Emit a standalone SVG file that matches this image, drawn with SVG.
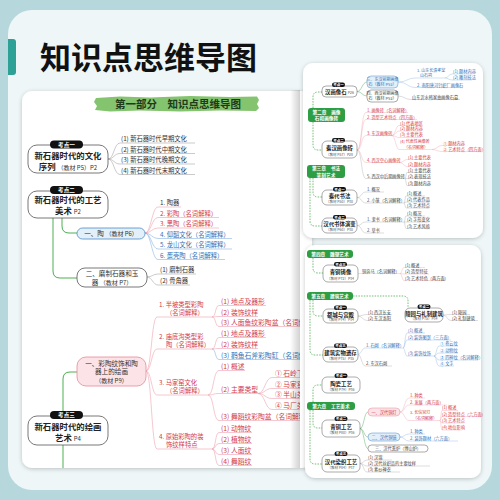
<svg xmlns="http://www.w3.org/2000/svg" width="500" height="500" viewBox="0 0 500 500">
<defs>
<style>
text{font-family:"Noto Sans CJK SC","Noto Sans",sans-serif}
.title{font-size:31px;font-weight:700;fill:#111}
.ban{font-size:10.5px;font-weight:700;fill:#1d3a1a}
.nb{font-size:8.4px;font-weight:700;fill:#222}
.ns{font-size:6px;fill:#333;font-weight:400}
.pt{font-size:5.6px;font-weight:700;fill:#fff}
.it{font-size:6.3px;fill:#333}
.i2{font-size:6.8px;fill:#333}
.red{fill:#d33a48}
.blu{fill:#2f6fb5}
.bx{font-size:6.6px;fill:#333}
.box{fill:#fff;stroke:#555;stroke-width:.8}
.pill{fill:#111}
.cg{fill:none;stroke:#a8a8a8;stroke-width:.6}
.cp{fill:none;stroke:#efa3b0;stroke-width:.6}
.cb{fill:none;stroke:#8ab4e0;stroke-width:.6}
.cgr{fill:none;stroke:#4caf50;stroke-width:1}
.cd{fill:none;stroke:#4caf50;stroke-width:.8;stroke-dasharray:1.5 1.2}
.rs{font-size:4.2px;fill:#444}
.rs2{font-size:4px}
.rsm{font-size:3.5px;fill:#555;font-weight:400}
.rbox{font-size:5.4px;font-weight:700;fill:#222}
.rpt{font-size:3.5px;font-weight:700;fill:#fff}
.ch{fill:#2e9e44}
.cht{font-size:4.7px;font-weight:700;fill:#fff}
.rbx{fill:#fff;stroke:#555;stroke-width:.5}
.rc{fill:none;stroke-width:.4}
</style>
<filter id="sh" x="-10%" y="-10%" width="120%" height="120%"><feDropShadow dx="0" dy="1" stdDeviation="2" flood-color="#000" flood-opacity="0.22"/></filter>
<clipPath id="mclip"><rect x="22" y="90" width="278" height="378"/></clipPath>
<linearGradient id="edge" x1="0" x2="1"><stop offset="0" stop-color="#000" stop-opacity="0"/><stop offset="1" stop-color="#000" stop-opacity="0.18"/></linearGradient>
</defs>

<!-- background -->
<rect width="500" height="500" fill="#b6d8dc"/>
<rect x="8" y="10" width="484" height="480" rx="24" fill="#eef6f7"/>
<path d="M8,39 H13 Q16,39 16,42 V72 Q16,75 13,75 H8 Z" fill="#2ea197"/>
<text class="title" x="40" y="69">知识点思维导图</text>

<!-- main page -->
<rect x="22" y="91" width="290" height="377" rx="10" fill="#fff" filter="url(#sh)"/>
<g clip-path="url(#mclip)">
<path d="M96,98 L120,96.5 L150,97.5 L190,96 L230,97 L257,96.5 L259,100 L257,104 L259,108 L256,111 L220,110.5 L180,111.5 L140,110.5 L110,111.5 L95,110 L97,106 L94,102 Z" fill="#84c46f"/>
<text class="ban" x="178" y="107.5" text-anchor="middle">第一部分　知识点思维导图</text>

<g id="connectors">
<path class="cg" d="M108,159 C114,159 114,143 120,143 H195"/>
<path class="cg" d="M108,159 C114,159 114,153.5 120,153.5 H195"/>
<path class="cg" d="M108,159 C114,159 114,164 120,164 H195"/>
<path class="cg" d="M108,159 C114,159 114,174.5 120,174.5 H195"/>
<path class="cgr" d="M62,218 V226 Q62,233 69,233 H77"/>
<path class="cgr" d="M53,218 V271 Q53,278 60,278 H77"/>
<path class="cgr" d="M63,470 V379 Q63,372 70,372 H77"/>
<path class="cp" d="M145,233 C151,233 152,207 158,207 H181"/>
<path class="cp" d="M145,233 C151,233 152,217.5 158,217.5 H219"/>
<path class="cp" d="M145,233 C151,233 152,228 158,228 H219"/>
<path class="cb" d="M145,233 C151,233 152,238.5 158,238.5 H232"/>
<path class="cb" d="M145,233 C151,233 152,249 158,249 H232"/>
<path class="cb" d="M145,233 C151,233 152,259.5 158,259.5 H225"/>
<path class="cg" d="M147,277 C152,277 153,274 158,274 H196"/>
<path class="cg" d="M147,277 C152,277 153,285 158,285 H190"/>
<path class="cp" d="M146,371 C151.5,371 151.5,317 157,317 H212"/>
<path class="cp" d="M146,371 C151.5,371 151.5,349 157,349 H212"/>
<path class="cp" d="M146,371 C151.5,371 151.5,395 157,395 H208"/>
<path class="cp" d="M146,371 C151.5,371 151.5,449 157,449 H212"/>
<path class="cp" d="M212,317 C216,317 215,305.5 219,305.5 H266"/>
<path class="cp" d="M212,317 C216,317 215,316.5 219,316.5 H258"/>
<path class="cp" d="M212,317 C216,317 215,326.5 219,326.5 H320"/>
<path class="cp" d="M212,349 C216,349 215,337.5 219,337.5 H266"/>
<path class="cp" d="M212,349 C216,349 215,348.5 219,348.5 H258"/>
<path class="cb" d="M212,349 C216,349 215,359.5 219,359.5 H320"/>
<path class="cp" d="M208,395 C214,395 213,370.5 219,370.5 H245"/>
<path class="cp" d="M208,395 C214,395 213,393.5 219,393.5 H258"/>
<path class="cp" d="M208,395 C214,395 213,420.5 219,420.5 H320"/>
<path class="cp" d="M258,393.5 C265,393.5 265,377.5 272,377.5 H320"/>
<path class="cp" d="M258,393.5 C265,393.5 265,388.5 272,388.5 H320"/>
<path class="cp" d="M258,393.5 C265,393.5 265,398.5 272,398.5 H320"/>
<path class="cp" d="M258,393.5 C265,393.5 265,409.5 272,409.5 H320"/>
<path class="cp" d="M212,449 C216,449 215,432.5 219,432.5 H252"/>
<path class="cp" d="M212,449 C216,449 215,443.5 219,443.5 H252"/>
<path class="cp" d="M212,449 C216,449 215,454.5 219,454.5 H252"/>
<path class="cp" d="M212,449 C216,449 215,465.5 219,465.5 H252"/>
</g>

<g id="kd1">
<rect class="box" x="28" y="145" width="80" height="28" rx="9"/>
<rect class="pill" x="50" y="140.5" width="33" height="8" rx="4"/>
<text class="pt" x="66.5" y="146.7" text-anchor="middle">考点一</text>
<text class="nb" text-anchor="middle"><tspan x="68" y="159">新石器时代的文化</tspan><tspan x="68" y="170.3">序列 <tspan class="ns">（教材 P5）P2</tspan></tspan></text>
</g>
<g id="kd1-items" class="it">
<text x="121" y="141.3">(1) 新石器时代早期文化</text>
<text x="121" y="151.8">(2) 新石器时代中期文化</text>
<text x="121" y="162.3">(3) 新石器时代晚期文化</text>
<text x="121" y="172.8">(4) 新石器时代末期文化</text>
</g>

<g id="kd2">
<rect class="box" x="28" y="191" width="80" height="27" rx="9"/>
<rect class="pill" x="50" y="186" width="33" height="8" rx="4"/>
<text class="pt" x="66.5" y="192.2" text-anchor="middle">考点二</text>
<text class="nb" text-anchor="middle"><tspan x="68" y="203">新石器时代的工艺</tspan><tspan x="68" y="214.3">美术 <tspan class="ns">P2</tspan></tspan></text>
</g>
<g id="tao">
<rect x="77" y="228" width="68" height="11" rx="5.5" fill="#e3f0fa" stroke="#4a8ac8" stroke-width=".8"/>
<text class="bx" x="111" y="236" text-anchor="middle" font-size="7">一、陶 <tspan font-size="6">（教材 P6）</tspan></text>
</g>
<g id="tao-items" class="it">
<text x="160" y="205.2">1. 陶器</text>
<text class="red" x="160" y="215.7">2. 彩陶（名词解释）</text>
<text class="red" x="160" y="226.2">3. 黑陶（名词解释）</text>
<text class="blu" x="160" y="236.7">4. 仰韶文化（名词解释）</text>
<text class="blu" x="160" y="247.2">5. 龙山文化（名词解释）</text>
<text class="blu" x="160" y="257.7">6. 蛋壳陶（名词解释）</text>
</g>
<g id="mozhi">
<rect class="box" x="77" y="268" width="70" height="19" rx="8"/>
<text class="bx" text-anchor="middle"><tspan x="112" y="275.8">二、磨制石器和玉</tspan><tspan x="112" y="284.7">器 <tspan font-size="6">（教材 P7）</tspan></tspan></text>
</g>
<g id="mozhi-items" class="it">
<text x="160" y="272.2">(1) 磨制石器</text>
<text x="160" y="283.2">(2) 骨角器</text>
</g>

<g id="kd3">
<rect class="box" x="28" y="416" width="80" height="29" rx="9"/>
<rect class="pill" x="50" y="411" width="33" height="8" rx="4"/>
<text class="pt" x="66.5" y="417.2" text-anchor="middle">考点三</text>
<text class="nb" text-anchor="middle"><tspan x="68" y="429.5">新石器时代的绘画</tspan><tspan x="68" y="440.8">艺术 <tspan class="ns">P4</tspan></tspan></text>
</g>
<g id="caitao">
<rect x="77" y="357" width="69" height="29" rx="9" fill="#fbe3e7" stroke="#e58a99" stroke-width=".8"/>
<text class="bx" text-anchor="middle"><tspan x="111.5" y="365.5">一、彩陶纹饰和陶</tspan><tspan x="111.5" y="374.4">器上的绘画</tspan><tspan x="111.5" y="383.1" font-size="6">（教材 P9）</tspan></text>
</g>
<g id="caitao-l1" class="red" font-size="6.3">
<text><tspan x="159" y="306.6">1. 半坡类型彩陶</tspan><tspan x="166" y="315.3">（名词解释）</tspan></text>
<text><tspan x="159" y="338.6">2. 庙底沟类型彩</tspan><tspan x="166" y="347.3">陶（名词解释）</tspan></text>
<text><tspan x="159" y="384.6">3. 马家窑文化</tspan><tspan x="166" y="393.3">（名词解释）</tspan></text>
<text><tspan x="159" y="438.6">4. 原始彩陶的装</tspan><tspan x="166" y="447.3">饰纹样特点</tspan></text>
</g>
<g id="caitao-l2" class="i2 red">
<text x="221" y="304.4">(1) 地点及器形</text>
<text x="221" y="315.4">(2) 装饰纹样</text>
<text x="221" y="325.4">(3) 人面鱼纹彩陶盆（名词解释）</text>
<text x="221" y="336.4">(1) 地点及器形</text>
<text x="221" y="347.4">(2) 装饰纹样</text>
<text class="blu" x="221" y="358.4">(3) 鹳鱼石斧彩陶缸（名词解释）</text>
<text x="221" y="369.4">(1) 概述</text>
<text x="221" y="392.4">(2) 主要类型</text>
<text x="221" y="419.4">(3) 舞蹈纹彩陶盆（名词解释）</text>
<text x="275" y="376.4">① 石岭下类型</text>
<text x="275" y="387.4">② 马家窑类型</text>
<text x="275" y="397.4">③ 半山类型</text>
<text x="275" y="408.4">④ 马厂类型</text>
<text x="221" y="431.4">(1) 动物纹</text>
<text x="221" y="442.4">(2) 植物纹</text>
<text x="221" y="453.4">(3) 人面纹</text>
<text x="221" y="464.4">(4) 舞蹈纹</text>
</g>
<rect x="290" y="90" width="10" height="378" fill="url(#edge)"/>
</g>

<!-- right top page -->
<rect x="303" y="63" width="180" height="175" rx="10" fill="#fff" filter="url(#sh)"/>
<g id="rt-connectors">
<path class="cd" d="M313,108 V97 Q313,92 318,92 H322"/>
<path class="cd" d="M313,122 V145 Q313,150 318,150 H322"/>
<path class="cd" d="M313,178 V192 Q313,197 318,197 H322"/>
<path class="cd" d="M310,178 V221 Q310,226 315,226 H322"/>
<path class="rc" stroke="#3aa04a" stroke-width=".7" d="M357,91.5 C362,91.5 362,82 367,82"/>
<path class="rc" stroke="#3aa04a" stroke-width=".7" d="M357,91.5 C362,91.5 362,96 367,96"/>
<path class="rc" stroke="#8ab4e0" d="M398,82 C407,82 407,78 416,78 H445"/>
<path class="rc" stroke="#8ab4e0" d="M398,82 C407,82 407,87.5 416,87.5 H462"/>
<path class="rc" stroke="#8ab4e0" d="M445,78 C448,78 449,74 452,74 H472"/>
<path class="rc" stroke="#8ab4e0" d="M445,78 C448,78 449,80 452,80 H472"/>
<path class="rc" stroke="#aaa" d="M398,96 C404,96 405,99.5 411,99.5 H460"/>
<path class="rc" stroke="#efa3b0" d="M357,150 C362,150 361,112.5 366,112.5 H408"/>
<path class="rc" stroke="#efa3b0" d="M357,150 C362,150 361,119.5 366,119.5 H417"/>
<path class="rc" stroke="#efa3b0" d="M357,150 C362,150 361,135.5 366,135.5 H392"/>
<path class="rc" stroke="#efa3b0" d="M357,150 C362,150 361,162.5 366,162.5 H400"/>
<path class="rc" stroke="#aaa" d="M357,150 C362,150 361,178.5 366,178.5 H405"/>
<path class="rc" stroke="#efa3b0" d="M392,135.5 C395,135.5 396,125.5 399,125.5 H421"/>
<path class="rc" stroke="#efa3b0" d="M392,135.5 C395,135.5 396,131 399,131 H421"/>
<path class="rc" stroke="#efa3b0" d="M392,135.5 C395,135.5 396,137.5 399,137.5 H421"/>
<path class="rc" stroke="#efa3b0" d="M392,135.5 C395,135.5 396,149.5 399,149.5 H432"/>
<path class="rc" stroke="#efa3b0" d="M432,149.5 C437,149.5 437,145.5 442,145.5 H462"/>
<path class="rc" stroke="#efa3b0" d="M432,149.5 C437,149.5 437,151.5 442,151.5 H478"/>
<path class="rc" stroke="#efa3b0" d="M400,162.5 C403,162.5 404,159.5 407,159.5 H429"/>
<path class="rc" stroke="#efa3b0" d="M400,162.5 C403,162.5 404,166.5 407,166.5 H429"/>
<path class="rc" stroke="#aaa" d="M405,178.5 C406,178.5 406,172.5 407,172.5 H429"/>
<path class="rc" stroke="#aaa" d="M405,178.5 H429"/>
<path class="rc" stroke="#aaa" d="M405,178.5 C406,178.5 406,185.5 407,185.5 H429"/>
<path class="rc" stroke="#aaa" d="M357,197.5 C362,197.5 361,192 366,192 H384"/>
<path class="rc" stroke="#aaa" d="M357,197.5 C362,197.5 361,203 366,203 H404"/>
<path class="rc" stroke="#aaa" d="M404,203 C405,203 405,196 406,196 H425"/>
<path class="rc" stroke="#aaa" d="M404,203 C405,203 405,202 406,202 H429"/>
<path class="rc" stroke="#aaa" d="M404,203 C405,203 405,208 406,208 H429"/>
<path class="rc" stroke="#aaa" d="M357,225.5 C362,225.5 361,222 366,222 H404"/>
<path class="rc" stroke="#aaa" d="M357,225.5 C362,225.5 361,233 366,233 H384"/>
<path class="rc" stroke="#aaa" d="M404,222 C405,222 405,216 406,216 H425"/>
<path class="rc" stroke="#aaa" d="M404,222 H429"/>
<path class="rc" stroke="#aaa" d="M404,222 C405,222 405,228.5 406,228.5 H429"/>
</g>
<g id="ch2">
<rect class="ch" x="308" y="108" width="37" height="14" rx="3"/>
<text class="cht" text-anchor="middle"><tspan x="326.5" y="113.8">第二章　画像</tspan><tspan x="326.5" y="120.2">石和画像砖</tspan></text>
</g>
<g id="hxs">
<rect class="rbx" x="322" y="86" width="35" height="11" rx="4"/>
<rect class="pill" x="332" y="82.5" width="13" height="4.5" rx="2.2"/>
<text class="rpt" x="338.5" y="86" text-anchor="middle">考点一</text>
<text class="rbox" x="339.5" y="94" text-anchor="middle">汉画像石 <tspan class="rsm">P26</tspan></text>
</g>
<g id="hxs-sub" class="rs">
<rect x="367" y="76" width="31" height="12" rx="4" fill="#e3f0fa" stroke="#4a8ac8" stroke-width=".5"/>
<text text-anchor="middle" class="blu rs2"><tspan x="382.5" y="80.7">三、东汉前期画像</tspan><tspan x="382.5" y="86.1">石（教材 P53）</tspan></text>
<rect class="rbx" x="367" y="90" width="31" height="12" rx="4"/>
<text text-anchor="middle" class="rs2"><tspan x="382.5" y="94.7">四、西汉前期画像</tspan><tspan x="382.5" y="100.1">石（教材 P53）</tspan></text>
<text class="blu rs2"><tspan x="417" y="71.5">1. 山东长清孝堂</tspan><tspan x="420" y="77">山石祠</tspan></text>
<text class="blu" x="417" y="86.5">2. 南阳唐河针织厂画像石</text>
<text class="blu" x="453" y="73">(1) 题材内容</text>
<text class="blu" x="453" y="79">(2) 雕刻技法</text>
<text x="412" y="98.5">山东沂水韩家曲画像石墓</text>
</g>
<g id="qhxz">
<rect class="rbx" x="322" y="141" width="35" height="17" rx="5"/>
<rect class="pill" x="332" y="138" width="13" height="4.5" rx="2.2"/>
<text class="rpt" x="338.5" y="141.5" text-anchor="middle">考点二</text>
<text class="rbox" text-anchor="middle"><tspan x="339.5" y="149.5">秦汉画像砖</tspan><tspan class="rsm" x="339.5" y="155.5">（教材 P57）P28</tspan></text>
</g>
<g id="qhxz-sub" class="rs">
<text class="red" x="367" y="111.5">1. 画像砖（名词解释）</text>
<text class="red" x="367" y="118.5">2. 造型艺术特点（四方面）</text>
<text class="red" x="367" y="134.5">3. 东汉画像砖</text>
<text class="red" x="400" y="124.5">(1) 代表地区</text>
<text class="red" x="400" y="130">(2) 题材内容</text>
<text class="red" x="400" y="136.3">(3) 主要代表</text>
<text class="red rs2"><tspan x="400" y="142.9">(4) 代表性画像砖</tspan><tspan x="404" y="148.5">（名词解释）</tspan></text>
<text class="red" x="443" y="144.5">① 题材内容</text>
<text class="red" x="443" y="150.5">② 艺术特点（四方面）</text>
<text class="red" x="367" y="161.5">4. 西汉空心画像砖</text>
<text class="red" x="408" y="158.5">(1) 主要代表</text>
<text class="red" x="408" y="165.5">(2) 题材内容</text>
<text x="367" y="177.5">5. 西汉中后期画像砖</text>
<text x="408" y="171.5">(1) 主要代表</text>
<text x="408" y="177.5">(2) 表现技法</text>
<text x="408" y="184.5">(3) 题材内容</text>
</g>
<g id="ch3">
<rect class="ch" x="307" y="165" width="38" height="13" rx="3"/>
<text class="cht" text-anchor="middle"><tspan x="326" y="170.4">第三章　书法</tspan><tspan x="326" y="176.7">篆刻艺术</tspan></text>
</g>
<g id="qdsf">
<rect class="rbx" x="322" y="190" width="35" height="15" rx="5"/>
<rect class="pill" x="333" y="187" width="13" height="4.5" rx="2.2"/>
<text class="rpt" x="339.5" y="190.5" text-anchor="middle">考点一</text>
<text class="rbox" text-anchor="middle"><tspan x="339.5" y="198">秦代书法</tspan><tspan class="rsm" x="339.5" y="203">（教材 P50）P30</tspan></text>
</g>
<g id="qdsf-sub" class="rs">
<text x="367" y="191">1. 概况</text>
<text x="367" y="202">2. 小篆（名词解释）</text>
<text x="407" y="195">(1) 概述</text>
<text x="407" y="201">(2) 代表作品</text>
<text x="407" y="207">(3) 艺术特点</text>
</g>
<g id="hdsf">
<rect class="rbx" x="322" y="218" width="35" height="15" rx="5"/>
<rect class="pill" x="333" y="215" width="13" height="4.5" rx="2.2"/>
<text class="rpt" x="339.5" y="218.5" text-anchor="middle">考点二</text>
<text class="rbox" text-anchor="middle"><tspan x="339.5" y="226">汉代书体演变</tspan><tspan class="rsm" x="339.5" y="231">（教材 P60）P30</tspan></text>
</g>
<g id="hdsf-sub" class="rs">
<text x="367" y="221">1. 隶书（名词解释）</text>
<text x="367" y="232">2. 草书</text>
<text x="407" y="215">(1) 概况</text>
<text x="407" y="221">(2) 字形变化</text>
<text x="407" y="227.5">(3) 艺术风格</text>
</g>

<!-- right bottom page -->
<rect x="305" y="245" width="176" height="233" rx="10" fill="#fff" filter="url(#sh)"/>
<g id="rb-connectors">
<path class="cd" d="M313,258 V268 Q313,273 318,273 H323"/>
<path class="cd" d="M353,296 H403 Q408,296 408,301 V308"/>
<path class="cd" d="M313,300 V311 Q313,316 318,316 H323"/>
<path class="cd" d="M310,300 V350 Q310,355 315,355 H323"/>
<path class="cd" d="M313,402 V390 Q313,385 318,385 H322"/>
<path class="cd" d="M313,410 V423 Q313,428 318,428 H322"/>
<path class="cd" d="M310,410 V459 Q310,464 315,464 H322"/>
<path class="rc" stroke="#efa3b0" d="M358,273.5 H400"/>
<path class="rc" stroke="#efa3b0" d="M400,273.5 C402,273.5 402,267.5 404,267.5 H425"/>
<path class="rc" stroke="#efa3b0" d="M400,273.5 C402,273.5 402,274 404,274 H429"/>
<path class="rc" stroke="#efa3b0" d="M400,273.5 C402,273.5 402,280.5 404,280.5 H445"/>
<path class="rc" stroke="#aaa" d="M358,316 C362,316 363,314.5 367,314.5 H392"/>
<path class="rc" stroke="#aaa" d="M358,316 C362,316 363,320.5 367,320.5 H392"/>
<path class="rc" stroke="#aaa" d="M443,315 C447,315 447,314.5 451,314.5 H470"/>
<path class="rc" stroke="#aaa" d="M443,315 C447,315 447,320.5 451,320.5 H478"/>
<path class="rc" stroke="#8ab4e0" d="M358,354.5 C361,354.5 362,348 365,348 H403"/>
<path class="rc" stroke="#aaa" d="M358,354.5 C361,354.5 362,366 365,366 H392"/>
<path class="rc" stroke="#8ab4e0" d="M403,348 C405,348 405,333 407,333 H425"/>
<path class="rc" stroke="#8ab4e0" d="M403,348 C405,348 405,340 407,340 H451"/>
<path class="rc" stroke="#8ab4e0" d="M403,348 C405,348 405,356 407,356 H434"/>
<path class="rc" stroke="#8ab4e0" d="M434,356 C436.5,356 436.5,346 439,346 H458"/>
<path class="rc" stroke="#8ab4e0" d="M434,356 C436.5,356 436.5,353 439,353 H458"/>
<path class="rc" stroke="#8ab4e0" d="M434,356 C436.5,356 436.5,360 439,360 H478"/>
<path class="rc" stroke="#8ab4e0" d="M434,356 C436.5,356 436.5,366 439,366 H454"/>
<path class="rc" stroke="#3aa04a" stroke-width=".7" d="M360,428.5 C364,428.5 364,412 368,412"/>
<path class="rc" stroke="#3aa04a" stroke-width=".7" d="M360,428.5 C364,428.5 364,437 368,437"/>
<path class="rc" stroke="#3aa04a" stroke-width=".7" d="M360,428.5 C364,428.5 364,448.5 368,448.5"/>
<path class="rc" stroke="#efa3b0" d="M400,412 C404.5,412 404.5,398 409,398 H425"/>
<path class="rc" stroke="#efa3b0" d="M400,412 C404.5,412 404.5,405 409,405 H447"/>
<path class="rc" stroke="#efa3b0" d="M400,412 C404.5,412 404.5,420.5 409,420.5 H440"/>
<path class="rc" stroke="#efa3b0" d="M440,420.5 C441,420.5 441,410.5 442,410.5 H458"/>
<path class="rc" stroke="#efa3b0" d="M440,420.5 C441,420.5 441,416.5 442,416.5 H478"/>
<path class="rc" stroke="#efa3b0" d="M440,420.5 C441,420.5 441,423 442,423 H462"/>
<path class="rc" stroke="#efa3b0" d="M440,420.5 C441,420.5 441,430 442,430 H462"/>
<path class="rc" stroke="#8ab4e0" d="M400,437 C404.5,437 404.5,434 409,434 H425"/>
<path class="rc" stroke="#8ab4e0" d="M400,437 C404.5,437 404.5,441 409,441 H458"/>
<path class="rc" stroke="#aaa" d="M360,463.5 C363.5,463.5 363.5,460 367,460 H392"/>
<path class="rc" stroke="#aaa" d="M360,463.5 C363.5,463.5 363.5,466 367,466 H430"/>
<path class="rc" stroke="#aaa" d="M360,463.5 C363.5,463.5 363.5,472 367,472 H400"/>
</g>
<g id="ch4">
<rect class="ch" x="307" y="250" width="46" height="8" rx="3"/>
<text class="cht" x="330" y="255.8" text-anchor="middle">第四章　雕塑艺术</text>
</g>
<g id="tzzx">
<rect class="rbx" x="323" y="265" width="35" height="17" rx="5"/>
<rect class="pill" x="334" y="262" width="13" height="4.5" rx="2.2"/>
<text class="rpt" x="340.5" y="265.5" text-anchor="middle">考点三</text>
<text class="rbox" text-anchor="middle"><tspan x="340.5" y="274">青铜铸像</tspan><tspan class="rsm" x="340.5" y="279.5">（教材 P72）P34</tspan></text>
</g>
<g id="tzzx-sub" class="rs red">
<text x="362" y="272.5">铜奔马（名词解释）</text>
<text x="405" y="266.5">(1) 概述</text>
<text x="405" y="273">(2) 造型特征</text>
<text x="405" y="279.5">(3) 艺术特色（两方面）</text>
</g>
<g id="ch5">
<rect class="ch" x="307" y="292" width="46" height="8" rx="3"/>
<text class="cht" x="330" y="297.8" text-anchor="middle">第五章　建筑艺术</text>
</g>
<g id="dcgd">
<rect class="rbx" x="323" y="309" width="35" height="14" rx="5"/>
<rect class="pill" x="334" y="305.5" width="13" height="4.5" rx="2.2"/>
<text class="rpt" x="340.5" y="309" text-anchor="middle">考点一</text>
<text class="rbox" text-anchor="middle"><tspan x="340.5" y="316.5">都城与宫殿</tspan><tspan class="rsm" x="340.5" y="321.3">（教材 P74）P34</tspan></text>
<text class="rs" x="368" y="313.5">(1) 西汉长安</text>
<text class="rs" x="368" y="319.5">(2) 东汉洛阳</text>
</g>
<g id="lyjz">
<rect class="rbx" x="405" y="308" width="38" height="14" rx="5"/>
<rect class="pill" x="417.5" y="304.5" width="13" height="4.5" rx="2.2"/>
<text class="rpt" x="424" y="308" text-anchor="middle">考点二</text>
<text class="rbox" text-anchor="middle"><tspan x="424" y="315.5">陵园与礼制建筑</tspan><tspan class="rsm" x="424" y="320.3">（教材 P75）P34</tspan></text>
<text class="rs" x="452" y="313.5">(1) 陵园</text>
<text class="rs" x="452" y="319.5">(2) 礼制建筑</text>
</g>
<g id="jzsw">
<rect class="rbx" x="323" y="347" width="35" height="15" rx="5"/>
<rect class="pill" x="334" y="343.5" width="13" height="4.5" rx="2.2"/>
<text class="rpt" x="340.5" y="347" text-anchor="middle">考点三</text>
<text class="rbox" text-anchor="middle"><tspan x="340.5" y="355">建筑实物遗存</tspan><tspan class="rsm" x="340.5" y="360">（教材 P75）P35</tspan></text>
</g>
<g id="jzsw-sub" class="rs">
<text class="blu" x="366" y="346.5">1. 石阙（名词解释）</text>
<text x="366" y="364.5">2. 东汉石阙</text>
<text class="blu" x="408" y="331.5">(1) 概述</text>
<text class="blu" x="408" y="338.5">(2) 装饰图案（三方面）</text>
<text class="blu" x="408" y="354.5">(3) 装饰纹饰</text>
<text class="blu" x="440" y="344.5">① 卷云纹</text>
<text class="blu" x="440" y="351.5">② 动物纹</text>
<text class="blu" x="440" y="358.5">③ 四神纹（名词解释）</text>
<text class="blu" x="440" y="364.5">④ 文字</text>
</g>
<g id="tcgy">
<rect class="rbx" x="322" y="377" width="38" height="16" rx="5"/>
<rect class="pill" x="334.5" y="373.5" width="13" height="4.5" rx="2.2"/>
<text class="rpt" x="341" y="377" text-anchor="middle">考点一</text>
<text class="rbox" text-anchor="middle"><tspan x="341" y="385.5">陶瓷工艺</tspan><tspan class="rsm" x="341" y="390.5">（教材 P79）P36</tspan></text>
</g>
<g id="ch6">
<rect class="ch" x="307" y="402" width="48" height="8" rx="3"/>
<text class="cht" x="331" y="407.8" text-anchor="middle">第六章　工艺美术</text>
</g>
<g id="qtgy">
<rect class="rbx" x="322" y="420" width="38" height="17" rx="5"/>
<rect class="pill" x="334.5" y="416.5" width="13" height="4.5" rx="2.2"/>
<text class="rpt" x="341" y="420" text-anchor="middle">考点二</text>
<text class="rbox" text-anchor="middle"><tspan x="341" y="428.5">青铜工艺</tspan><tspan class="rsm" x="341" y="434">（教材 P80）P36</tspan></text>
</g>
<g id="qtgy-sub" class="rs">
<rect x="368" y="408" width="32" height="8" rx="4" fill="#fbe3e7" stroke="#e58a99" stroke-width=".5"/>
<text class="red" x="384" y="413.5" text-anchor="middle">一、汉代铜灯</text>
<rect x="368" y="433" width="32" height="8" rx="4" fill="#e3f0fa" stroke="#4a8ac8" stroke-width=".5"/>
<text class="blu" x="384" y="438.5" text-anchor="middle">二、汉代铜镜</text>
<rect class="rbx" x="368" y="445" width="60" height="7" rx="3.5"/>
<text x="398" y="450" text-anchor="middle">三、汉代熏炉（博山炉）</text>
<text class="red" x="410" y="397">1. 种类</text>
<text class="red" x="410" y="404">2. 发展（两方面）</text>
<text class="red rs2"><tspan x="410" y="414">3. 长信宫灯</tspan><tspan x="413" y="419.5">（名词解释）</tspan></text>
<text class="red" x="442" y="409.3">(1) 概述</text>
<text class="red" x="442" y="415.5">(2) 造型特点（六方面）</text>
<text class="red" x="442" y="422">(3) 艺术特点</text>
<text class="red" x="442" y="429">(4) 地位影响</text>
<text class="blu" x="410" y="433">1. 种类</text>
<text class="blu" x="410" y="440">2. 装饰题材（六方面）</text>
</g>
<g id="rzgy">
<rect class="rbx" x="322" y="455" width="38" height="17" rx="5"/>
<rect class="pill" x="334.5" y="451.5" width="13" height="4.5" rx="2.2"/>
<text class="rpt" x="341" y="455" text-anchor="middle">考点三</text>
<text class="rbox" text-anchor="middle"><tspan x="341" y="463.5">汉代染织工艺</tspan><tspan class="rsm" x="341" y="469">（教材 P84）P37</tspan></text>
<text class="rs" x="368" y="459">(1) 汉锦</text>
<text class="rs" x="368" y="465">(2) 汉代丝织品的主要纹样</text>
<text class="rs" x="368" y="471">(3) 素纱禅衣</text>
</g>
</svg>
